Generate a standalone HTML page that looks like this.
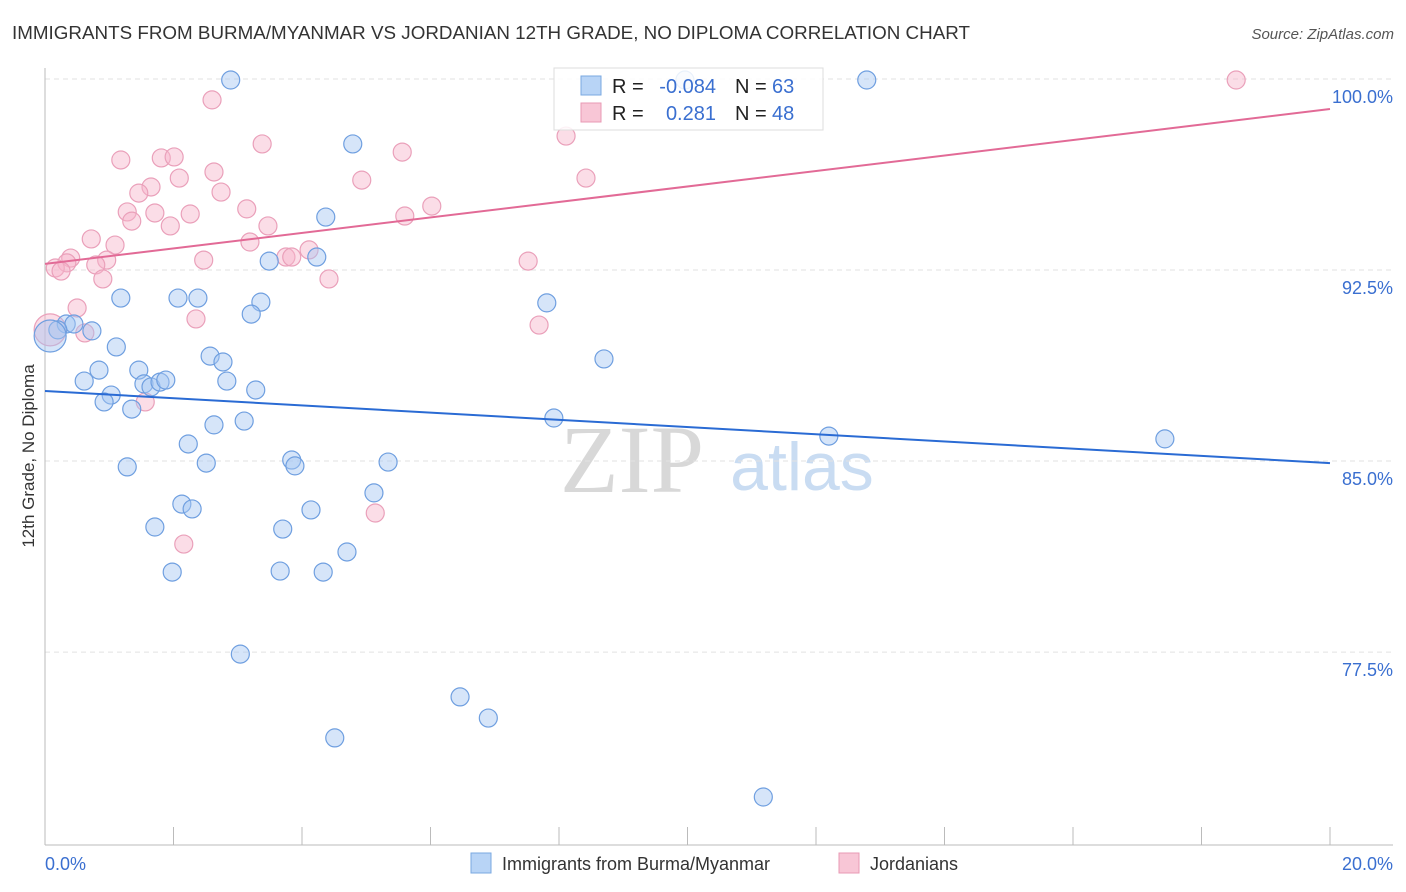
<!DOCTYPE html>
<html><head><meta charset="utf-8">
<style>
body{margin:0;background:#fff;font-family:"Liberation Sans",sans-serif;}
svg{display:block}
</style></head>
<body>
<svg id="chart" width="1406" height="892" xmlns="http://www.w3.org/2000/svg">
<text x="12" y="39" font-size="18" fill="#333" textLength="958" lengthAdjust="spacingAndGlyphs" font-family="Liberation Sans, sans-serif">IMMIGRANTS FROM BURMA/MYANMAR VS JORDANIAN 12TH GRADE, NO DIPLOMA CORRELATION CHART</text>
<text x="1394" y="39" font-size="15" fill="#555" text-anchor="end" font-style="italic">Source: ZipAtlas.com</text>
<g>
<text x="632" y="492" font-size="96" fill="#d8d8d8" text-anchor="middle" font-family="Liberation Serif, serif">ZIP</text>
<text x="802" y="490" font-size="68" fill="#c9dcf2" text-anchor="middle">atlas</text>
</g>
<g id="grid"></g>
<g id="axes"></g>
<g id="pts"></g>
<g id="trend"></g>
<text transform="translate(34,456) rotate(-90)" font-size="17" fill="#333" text-anchor="middle">12th Grade, No Diploma</text>
<g>
<rect x="554" y="68" width="269" height="62" fill="#fff" fill-opacity="0.85" stroke="#ddd"/>
<rect x="581" y="76" width="20" height="19" fill="#b8d4f6" stroke="#7aa8e0"/>
<rect x="581" y="103" width="20" height="19" fill="#f8c6d6" stroke="#e89ab4"/>
<text x="612" y="93" font-size="20" fill="#222">R =</text>
<text x="716" y="93" font-size="20" fill="#3a6fd0" text-anchor="end">-0.084</text>
<text x="735" y="93" font-size="20" fill="#222">N =</text>
<text x="772" y="93" font-size="20" fill="#3a6fd0">63</text>
<text x="612" y="120" font-size="20" fill="#222">R =</text>
<text x="716" y="120" font-size="20" fill="#3a6fd0" text-anchor="end">0.281</text>
<text x="735" y="120" font-size="20" fill="#222">N =</text>
<text x="772" y="120" font-size="20" fill="#3a6fd0">48</text>
</g>
<g>
<rect x="471" y="853" width="20" height="20" fill="#b8d4f6" stroke="#7aa8e0"/>
<text x="502" y="870" font-size="18" fill="#333">Immigrants from Burma/Myanmar</text>
<rect x="839" y="853" width="20" height="20" fill="#f8c6d6" stroke="#e89ab4"/>
<text x="870" y="870" font-size="18" fill="#333">Jordanians</text>
</g>
</svg>
<script>
const blueX=[2.89,9.96,12.79,4.79,4.37,3.49,4.23,1.18,2.07,2.38,3.36,3.21,7.81,0.33,0.45,0.73,0.20,1.11,8.70,2.57,2.77,0.84,1.46,0.61,1.54,1.65,1.79,1.88,2.83,3.28,1.03,0.92,1.35,2.63,3.10,7.92,12.20,17.43,2.23,1.28,2.51,3.84,3.89,5.34,5.12,2.13,2.29,4.14,1.71,3.70,4.70,1.98,3.66,4.33,3.04,6.46,6.90,4.51,11.18,0.08];
const blueY=[99.96,99.96,99.96,97.45,94.58,92.85,93.01,91.40,91.40,91.40,91.24,90.77,91.21,90.38,90.38,90.11,90.15,89.48,89.01,89.12,88.89,88.57,88.57,88.14,88.03,87.91,88.10,88.18,88.14,87.79,87.59,87.32,87.04,86.42,86.57,86.69,85.98,85.87,85.67,84.77,84.92,85.04,84.81,84.96,83.75,83.31,83.12,83.08,82.41,82.33,81.43,80.64,80.68,80.64,77.42,75.74,74.91,74.13,71.81,89.91];
const pinkX=[2.60,18.54,8.11,3.38,5.56,1.18,1.81,2.01,2.63,2.09,4.93,8.42,1.65,1.46,2.74,1.28,1.71,2.26,1.35,3.14,6.02,5.60,3.47,1.95,0.72,1.09,3.19,4.11,0.40,0.34,0.96,0.79,2.47,3.75,3.84,7.52,0.16,0.25,0.90,4.42,0.50,2.35,7.69,0.62,1.56,5.14,2.16,0.08];
const pinkY=[99.18,99.96,97.76,97.45,97.13,96.82,96.90,96.94,96.35,96.11,96.03,96.11,95.76,95.52,95.56,94.78,94.74,94.70,94.42,94.90,95.01,94.62,94.23,94.23,93.72,93.48,93.60,93.29,92.97,92.78,92.89,92.70,92.89,93.01,93.01,92.85,92.58,92.46,92.15,92.15,91.01,90.58,90.34,90.03,87.32,82.96,81.74,90.15];
const blueTrend=[87.75,84.92];
const pinkTrend=[92.74,98.82];
const yTicks=[100,92.5,85,77.5];
const yTickLabels=["100.0%","92.5%","85.0%","77.5%"];
const xTickLabels=["0.0%","20.0%"];
const NS="http://www.w3.org/2000/svg";
const sx=v=>45+v*64.25;
const sy=v=>79+(100-v)*25.47;
function mk(tag,attrs,parent){const e=document.createElementNS(NS,tag);for(const k in attrs)e.setAttribute(k,attrs[k]);parent.appendChild(e);return e;}
const grid=document.getElementById('grid'),axes=document.getElementById('axes'),pts=document.getElementById('pts'),trend=document.getElementById('trend');
yTicks.forEach((t,i)=>{
  const l=mk('line',{x1:45,x2:1393,y1:sy(t),y2:sy(t),stroke:'#e2e2e2','stroke-dasharray':'5,4'},grid);
  
  
  const tx=mk('text',{x:1393,y:sy(t)+24,'font-size':18,fill:'#3a6fd0','text-anchor':'end'},axes);
  tx.textContent=yTickLabels[i];
  
  
});
let a=mk('line',{x1:45,x2:45,y1:68,y2:845,stroke:'#bbb'},axes);


a=mk('line',{x1:45,x2:1393,y1:845,y2:845,stroke:'#bbb'},axes);


for(let i=0;i<=10;i++){
  const t=mk('line',{x1:sx(i*2),x2:sx(i*2),y1:827,y2:845,stroke:'#bbb'},axes);
  
  
}
[[0,'start',45],[20,'end',1393]].forEach((d,i)=>{
  const tx=mk('text',{x:d[2],y:870,'font-size':18,fill:'#3a6fd0','text-anchor':d[1]},axes);
  tx.textContent=xTickLabels[i];
  
  
});
function draw(X,Y,fill,stroke,name){
  X.forEach((x,i)=>{
    const big=(x<0.1);
    const c=mk('circle',{cx:sx(x),cy:sy(Y[i]),r:big?16:9,fill:fill,stroke:stroke,'stroke-width':1.2},pts);
    
    
  });
}
draw(pinkX,pinkY,'rgba(246,180,202,0.45)','#eaa0ba','point-jordanians');
draw(blueX,blueY,'rgba(165,198,242,0.45)','#6f9fe0','point-burma');
let tl=mk('line',{x1:sx(0),y1:sy(blueTrend[0]),x2:sx(20),y2:sy(blueTrend[1]),stroke:'#2a6bd4','stroke-width':2},trend);


tl=mk('line',{x1:sx(0),y1:sy(pinkTrend[0]),x2:sx(20),y2:sy(pinkTrend[1]),stroke:'#e26a96','stroke-width':2},trend);


</script>
</body></html>
